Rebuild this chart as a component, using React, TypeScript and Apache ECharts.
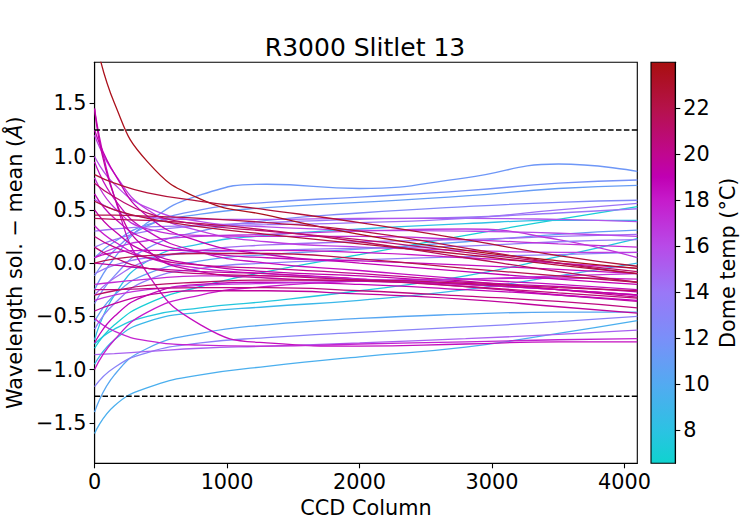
import React, { useEffect, useRef } from 'react';
import * as echarts from 'echarts';

// CCD columns at which each wavelength-solution residual is sampled
const COLUMNS = [0, 150, 400, 800, 1300, 2000, 2800, 3500, 4096];

// Dome temperature (°C) of each exposure
const DOME_TEMPS = [
  7.0, 7.6, 8.2, 8.8, 9.6, 10.2, 10.8, 11.4, 11.8, 11.0, 12.4,
  13.0, 13.5, 14.0, 14.5, 15.0, 15.5, 16.0, 16.5, 14.2, 16.8, 13.8,
  18.5, 17.6, 18.0, 19.0, 18.5, 18.0, 19.5, 17.4, 18.8, 19.2, 20.0, 17.0, 20.4, 18.2, 17.2, 19.6, 19.4, 18.6, 20.6,
  23.6, 22.6, 22.0, 21.5, 21.0, 22.4, 21.8, 21.2,
];

// Wavelength solution minus mean (Å) at each sampled column
const RESIDUALS = [
  [-0.80, -0.58, -0.38, -0.22, -0.08, 0.08, 0.26, 0.41, 0.53],
  [-0.76, -0.62, -0.50, -0.42, -0.36, -0.26, -0.12, 0.06, 0.23],
  [-0.72, -0.30, 0.02, 0.18, 0.26, 0.32, 0.37, 0.40, 0.40],
  [-0.95, -0.72, -0.55, -0.46, -0.41, -0.35, -0.25, -0.12, 0.00],
  [-1.60, -1.34, -1.17, -1.05, -0.97, -0.88, -0.79, -0.66, -0.54],
  [-1.40, -1.05, -0.80, -0.66, -0.58, -0.52, -0.48, -0.46, -0.46],
  [-0.55, -0.30, -0.10, 0.02, 0.08, 0.13, 0.20, 0.27, 0.31],
  [-0.25, 0.05, 0.38, 0.64, 0.74, 0.70, 0.80, 0.93, 0.86],
  [-0.12, 0.12, 0.35, 0.50, 0.57, 0.62, 0.68, 0.75, 0.78],
  [0.05, 0.20, 0.36, 0.46, 0.52, 0.57, 0.63, 0.70, 0.73],
  [-0.38, -0.12, 0.14, 0.30, 0.40, 0.47, 0.53, 0.57, 0.59],
  [-1.16, -0.98, -0.84, -0.75, -0.70, -0.65, -0.60, -0.55, -0.50],
  [-0.62, -0.38, -0.16, -0.05, 0.00, 0.03, 0.06, 0.08, 0.10],
  [0.15, 0.22, 0.30, 0.35, 0.38, 0.41, 0.43, 0.47, 0.51],
  [-0.30, -0.14, 0.02, 0.12, 0.17, 0.20, 0.22, 0.25, 0.27],
  [-0.86, -0.85, -0.83, -0.80, -0.78, -0.75, -0.71, -0.67, -0.63],
  [0.60, 0.50, 0.43, 0.41, 0.41, 0.42, 0.42, 0.41, 0.39],
  [1.00, 0.74, 0.52, 0.39, 0.34, 0.31, 0.30, 0.28, 0.25],
  [1.20, 0.84, 0.50, 0.30, 0.20, 0.15, 0.12, 0.10, 0.10],
  [0.30, 0.32, 0.34, 0.35, 0.36, 0.38, 0.42, 0.50, 0.56],
  [0.05, 0.14, 0.21, 0.25, 0.27, 0.30, 0.32, 0.22, 0.05],
  [-0.10, -0.02, 0.05, 0.10, 0.12, 0.14, 0.16, 0.20, 0.22],
  [1.45, 0.62, -0.10, -0.58, -0.75, -0.78, -0.76, -0.74, -0.74],
  [-0.52, -0.64, -0.73, -0.77, -0.78, -0.76, -0.74, -0.72, -0.71],
  [-1.00, -0.72, -0.46, -0.30, -0.22, -0.17, -0.15, -0.14, -0.15],
  [1.25, 0.84, 0.44, 0.20, 0.08, 0.00, -0.08, -0.15, -0.20],
  [0.95, 0.60, 0.30, 0.10, 0.00, -0.07, -0.15, -0.20, -0.25],
  [0.35, 0.20, 0.05, -0.05, -0.10, -0.15, -0.20, -0.25, -0.30],
  [0.00, -0.02, -0.05, -0.08, -0.10, -0.15, -0.22, -0.30, -0.36],
  [-0.20, -0.18, -0.15, -0.12, -0.12, -0.15, -0.20, -0.25, -0.30],
  [-0.75, -0.50, -0.30, -0.20, -0.18, -0.20, -0.25, -0.30, -0.35],
  [0.50, 0.30, 0.10, -0.02, -0.08, -0.12, -0.18, -0.22, -0.27],
  [0.25, 0.15, 0.05, -0.02, -0.05, -0.10, -0.17, -0.25, -0.32],
  [-0.35, -0.30, -0.25, -0.21, -0.19, -0.17, -0.15, -0.12, -0.10],
  [-0.25, -0.25, -0.24, -0.23, -0.23, -0.26, -0.31, -0.36, -0.42],
  [0.05, 0.10, 0.12, 0.12, 0.12, 0.10, 0.05, 0.00, -0.05],
  [0.80, 0.52, 0.32, 0.26, 0.25, 0.25, 0.22, 0.18, 0.15],
  [-0.45, -0.38, -0.30, -0.26, -0.26, -0.29, -0.34, -0.41, -0.47],
  [1.45, 0.62, 0.12, -0.08, -0.14, -0.17, -0.20, -0.25, -0.30],
  [0.65, 0.42, 0.22, 0.10, 0.05, 0.02, -0.02, -0.06, -0.10],
  [0.15, 0.05, -0.05, -0.10, -0.12, -0.16, -0.22, -0.28, -0.33],
  [2.15, 1.50, 0.95, 0.60, 0.45, 0.27, 0.12, 0.02, -0.05],
  [0.83, 0.75, 0.66, 0.58, 0.50, 0.38, 0.22, 0.07, -0.03],
  [0.45, 0.45, 0.44, 0.42, 0.38, 0.30, 0.14, 0.00, -0.10],
  [0.42, 0.41, 0.40, 0.37, 0.31, 0.20, 0.05, -0.08, -0.18],
  [0.75, 0.62, 0.47, 0.36, 0.30, 0.22, 0.10, 0.00, -0.08],
  [0.58, 0.50, 0.42, 0.34, 0.27, 0.18, 0.08, -0.02, -0.10],
  [0.00, 0.04, 0.07, 0.09, 0.09, 0.04, -0.05, -0.12, -0.18],
  [-0.30, -0.26, -0.21, -0.18, -0.16, -0.16, -0.19, -0.23, -0.26],
];

// Tolerance limits (Å)
const LIMITS = [1.25, -1.25];

const X_MIN = 0;
const X_MAX = 4096;
const Y_MIN = -1.88;
const Y_MAX = 1.885;
const X_TICKS = [0, 1000, 2000, 3000, 4000];
const Y_TICKS = [-1.5, -1.0, -0.5, 0.0, 0.5, 1.0, 1.5];
const TEMP_MIN = 6.55;
const TEMP_MAX = 24.0;
const TEMP_TICKS = [8, 10, 12, 14, 16, 18, 20, 22];

// colormap: temperature -> colour
const CMAP: [number, string][] = [
  [6.55, '#0fd3cf'],
  [8, '#2cc2e3'],
  [10, '#53aaf1'],
  [12, '#7a8ff9'],
  [14, '#9a77f7'],
  [16, '#b84ae8'],
  [18, '#c61bcb'],
  [19, '#c000b3'],
  [20, '#c0078f'],
  [22, '#b5124a'],
  [24, '#a80f0f'],
];

const FONT = '"DejaVu Sans", Verdana, sans-serif';

function hexToRgb(h: string) {
  const n = parseInt(h.slice(1), 16);
  return [(n >> 16) & 255, (n >> 8) & 255, n & 255];
}

function tempColor(t: number) {
  if (t <= CMAP[0][0]) return CMAP[0][1];
  for (let i = 1; i < CMAP.length; i++) {
    if (t <= CMAP[i][0]) {
      const [t0, c0] = CMAP[i - 1];
      const [t1, c1] = CMAP[i];
      const f = (t - t0) / (t1 - t0);
      const a = hexToRgb(c0);
      const b = hexToRgb(c1);
      const c = a.map((v, k) => Math.round(v + (b[k] - v) * f));
      return `rgb(${c[0]},${c[1]},${c[2]})`;
    }
  }
  return CMAP[CMAP.length - 1][1];
}

const fmtNum = (v: number, d: number) => (v < 0 ? '\u2212' + Math.abs(v).toFixed(d) : v.toFixed(d));

export default function App() {
  const ref = useRef<HTMLDivElement>(null);

  useEffect(() => {
    if (!ref.current) return;
    const chart = echarts.init(ref.current, null, { renderer: 'svg' });

    const gradient = new echarts.graphic.LinearGradient(
      0, 1, 0, 0,
      CMAP.map(([t, c]) => ({ offset: (t - TEMP_MIN) / (TEMP_MAX - TEMP_MIN), color: c }))
    );

    const axisText = { fontFamily: FONT, fontSize: 20.8, color: '#000' };
    const tickStyle = { color: '#000', width: 1.1 };

    const curveSeries = RESIDUALS.map((row, i) => {
      const color = tempColor(DOME_TEMPS[i]);
      return {
        type: 'line',
        xAxisIndex: 0,
        yAxisIndex: 0,
        data: row.map((v, j) => [COLUMNS[j], v]),
        smooth: 0.5,
        symbol: 'none',
        showSymbol: false,
        silent: true,
        lineStyle: { width: 1.3, color },
        itemStyle: { color },
        z: 2,
      };
    });

    const limitSeries = LIMITS.map((y) => ({
      type: 'line',
      xAxisIndex: 0,
      yAxisIndex: 0,
      data: [[X_MIN, y], [X_MAX, y]],
      symbol: 'none',
      showSymbol: false,
      silent: true,
      lineStyle: { width: 1.5, color: '#000', type: [5.5, 2.4] },
      z: 3,
    }));

    chart.setOption({
      animation: false,
      backgroundColor: '#fff',
      title: {
        text: 'R3000 Slitlet 13',
        left: 360,
        top: 30,
        textAlign: 'center',
        textStyle: { fontFamily: FONT, fontSize: 25, fontWeight: 'normal', color: '#000' },
      },
      grid: [
        {
          left: 94.6, top: 62.3, right: 112.7, bottom: 56.7,
          outerBoundsMode: 'none', containLabel: false,
          show: true, borderColor: '#000', borderWidth: 1.1, backgroundColor: 'transparent',
        },
        {
          left: 651, top: 62.3, right: 74.7, bottom: 56.7,
          outerBoundsMode: 'none', containLabel: false,
          show: true, borderColor: '#000', borderWidth: 1.1, backgroundColor: gradient,
        },
      ],
      xAxis: [
        {
          type: 'value', gridIndex: 0, min: X_MIN, max: X_MAX,
          name: 'CCD Column', nameLocation: 'middle', nameGap: 33,
          nameTextStyle: axisText,
          axisLine: { show: true, onZero: false, lineStyle: tickStyle },
          axisTick: { show: true, customValues: X_TICKS, length: 5, inside: false, lineStyle: tickStyle },
          axisLabel: { customValues: X_TICKS, ...axisText, margin: 8, formatter: (v: number) => String(v) },
          splitLine: { show: false },
        },
        { type: 'value', gridIndex: 1, min: 0, max: 1, show: false },
      ],
      yAxis: [
        {
          type: 'value', gridIndex: 0, min: Y_MIN, max: Y_MAX,
          name: 'Wavelength sol. \u2212 mean ({i|\u00c5})', nameLocation: 'middle', nameGap: 62, nameRotate: 90,
          nameTextStyle: { ...axisText, rich: { i: { ...axisText, fontStyle: 'italic' } } },
          axisLine: { show: true, onZero: false, lineStyle: tickStyle },
          axisTick: { show: true, customValues: Y_TICKS, length: 5, inside: false, lineStyle: tickStyle },
          axisLabel: { customValues: Y_TICKS, ...axisText, margin: 8, formatter: (v: number) => fmtNum(v, 1) },
          splitLine: { show: false },
        },
        {
          type: 'value', gridIndex: 1, min: TEMP_MIN, max: TEMP_MAX, position: 'right',
          name: 'Dome temp (\u00b0C)', nameLocation: 'middle', nameGap: 42, nameRotate: 90,
          nameTextStyle: axisText,
          axisLine: { show: true, onZero: false, lineStyle: tickStyle },
          axisTick: { show: true, customValues: TEMP_TICKS, length: 5, inside: false, lineStyle: tickStyle },
          axisLabel: { customValues: TEMP_TICKS, ...axisText, margin: 8, formatter: (v: number) => String(v) },
          splitLine: { show: false },
        },
      ],
      series: [...curveSeries, ...limitSeries],
    });

    return () => chart.dispose();
  }, []);

  return (
    <div
      ref={ref}
      style={{ position: 'fixed', left: 0, top: 0, width: 750, height: 520, background: '#fff' }}
    />
  );
}
